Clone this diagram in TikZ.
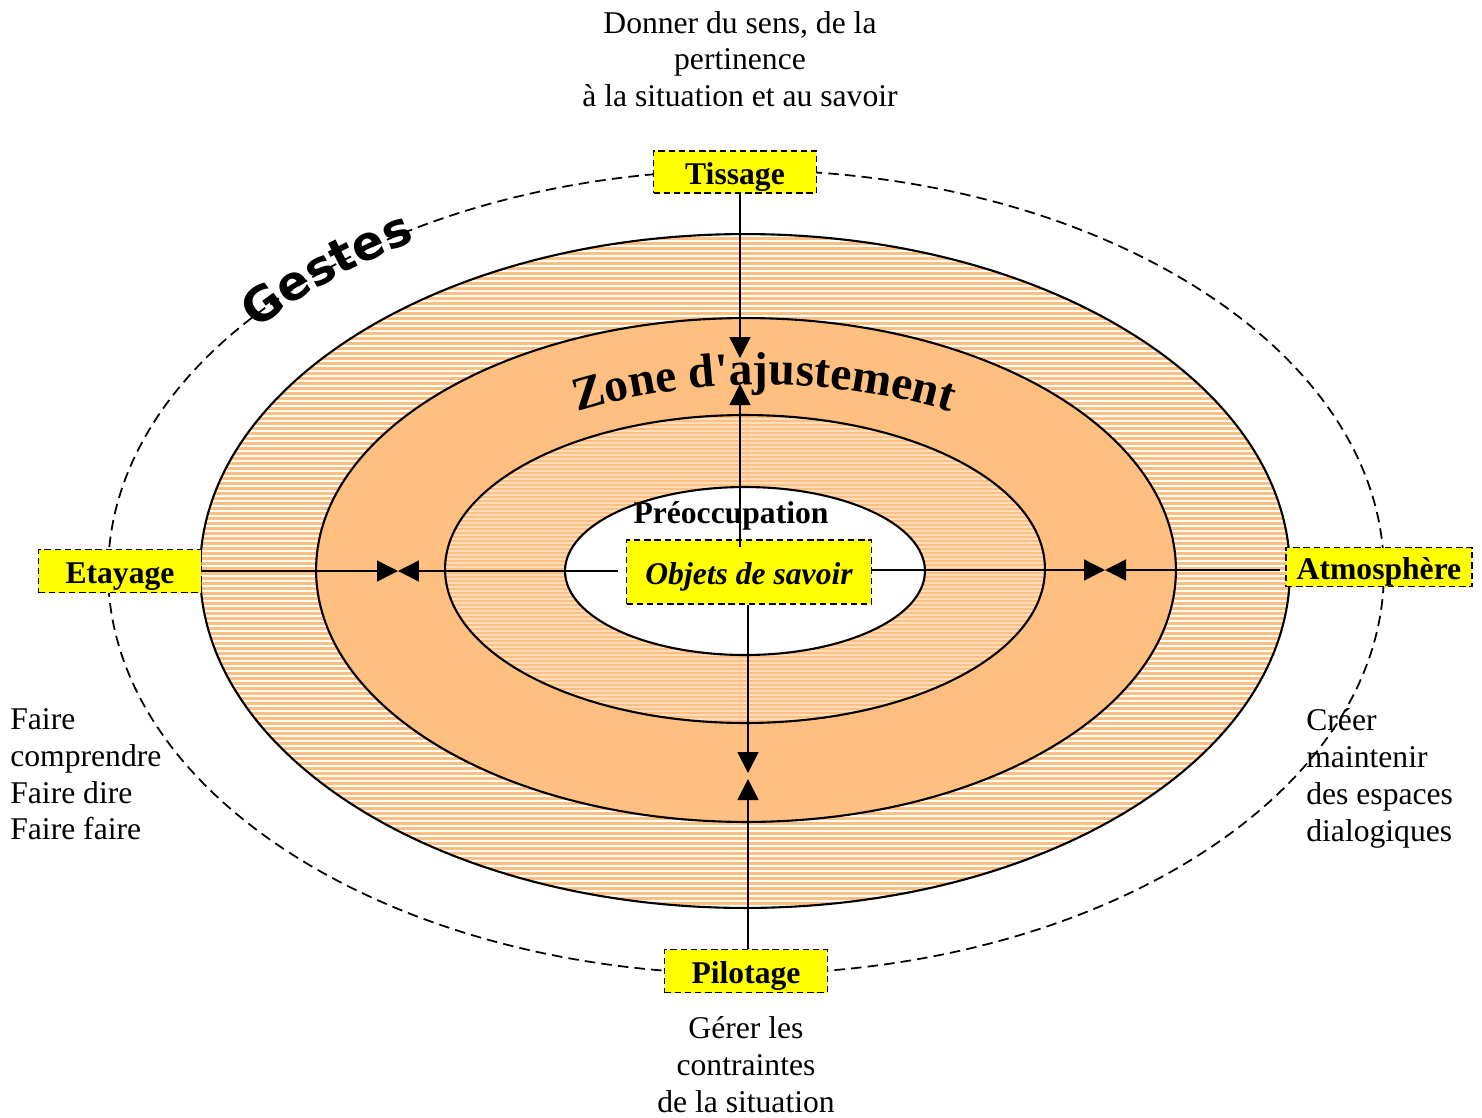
\documentclass[tikz,border=0pt]{standalone}
\usepackage{fontspec}
\setmainfont{Liberation Serif}
\newfontfamily\gestfont{DejaVu Sans}
\usetikzlibrary{positioning,arrows.meta,decorations.text,calc}
\definecolor{ringorange}{RGB}{255,191,128}
\definecolor{ringpeach}{RGB}{255,222,190}
\definecolor{boxyellow}{RGB}{255,255,0}
\begin{document}
\begin{tikzpicture}[x=0.02cm, y=-0.02cm,
  every node/.style = {font=\fontsize{18}{21}\selectfont},
  box/.style = {draw, dash pattern=on 3.6pt off 2.2pt, line width=1.1pt, fill=boxyellow, inner sep=0pt,
    text height=0.5cm, text depth=0cm, font=\fontsize{18}{21}\selectfont\bfseries},
  lbl/.style = {inner sep=0pt, align=center},
  tip/.style = {line width=0.8pt, -{Triangle[length=0.42cm,width=0.42cm]}},
  ring/.style = {line width=1.2pt}]
\useasboundingbox (0,0) rectangle (1482,1117);
% gestes
\draw[dash pattern=on 6pt off 3.5pt, line width=1pt] (746,572) ellipse [x radius=12.76cm, y radius=8.04cm];
\path[decorate, decoration={text along path, text align=center,
  text={|\gestfont\bfseries\fontsize{27}{27}\selectfont|Gestes}}]
  ($(746,572)+(150:12.5cm and 7.8cm)$) arc[start angle=150, end angle=115, x radius=12.5cm, y radius=7.8cm];
% rings
\fill[ringorange] (745,571) ellipse [x radius=10.9cm, y radius=6.74cm];
\begin{scope}
\clip (745,571) ellipse [x radius=10.9cm, y radius=6.74cm];
\foreach \y in {236,241,...,906} \draw[white, line width=0.8pt] (200,\y) -- (1290,\y);
\end{scope}
\fill[ringorange] (746,570) ellipse [x radius=8.6cm, y radius=5.04cm];
\fill[ringpeach] (745,569) ellipse [x radius=6cm, y radius=3.08cm];
\begin{scope}
\clip (745,569) ellipse [x radius=6cm, y radius=3.08cm];
\foreach \y in {417,421,...,723} \draw[ringorange, line width=0.7pt] (445,\y) -- (1046,\y);
\end{scope}
\fill[white] (745,571) ellipse [x radius=3.6cm, y radius=1.68cm];
\draw[ring] (745,571) ellipse [x radius=10.9cm, y radius=6.74cm];
\draw[ring] (746,570) ellipse [x radius=8.6cm, y radius=5.04cm];
\draw[ring] (745,569) ellipse [x radius=6cm, y radius=3.08cm];
\draw[ring] (745,571) ellipse [x radius=3.6cm, y radius=1.68cm];
\path[decorate, decoration={text along path, text align=center,
  text={|\bfseries\fontsize{27}{27}\selectfont|Zone d{\textquotesingle}ajustement}}]
  ($(764,570)+(165:7.2cm and 3.7cm)$) arc[start angle=165, end angle=15, x radius=7.2cm, y radius=3.7cm];
% boxes
\node[box, minimum width=3.26cm, minimum height=0.84cm] (tis) at (735,172) {Tissage};
\node[box, minimum width=3.26cm, minimum height=0.86cm] (eta) at (120,571) {Etayage};
\node[box, minimum width=3.72cm, minimum height=0.78cm] (atm) at (1379,567) {Atmosphère};
\node[box, minimum width=3.26cm, minimum height=0.86cm] (pil) at (746,971) {Pilotage};
\node[box, minimum width=4.9cm, minimum height=1.28cm, font=\fontsize{18}{21}\selectfont\bfseries\itshape] (obj) at (749,572) {Objets de savoir};
\node[font=\fontsize{18}{21}\selectfont\bfseries] (pre) at (731,516) {Préoccupation};
% labels
\node[lbl, above=0.85cm of tis, xshift=0.1cm] (sens) {Donner du sens, de la\\pertinence\\à la situation et au savoir};
\node[lbl, below=0.46cm of pil] (gere) {Gérer les\\contraintes\\de la situation};
\node[lbl, align=left, anchor=north west] (fair) at (10,708) {Faire\\comprendre\\Faire dire\\Faire faire};
\node[lbl, align=left, anchor=north west] (crea) at (1306,708) {Créer\\maintenir\\des espaces\\dialogiques};
% arrows
\coordinate (mt) at (740,371);
\coordinate (ml) at (398,571);
\coordinate (mr) at (1105,570);
\coordinate (mb) at (748,776);
\draw[tip, shorten >=0.26cm] (tis.south -| mt) -- (mt);
\draw[tip, shorten >=0.26cm, shorten <=-0.16cm] (obj.north -| mt) -- (mt);
\draw[tip] (eta.east |- ml) -- (ml);
\draw[tip, shorten <=0.16cm] (obj.west |- ml) -- (ml);
\draw[tip] (obj.east |- mr) -- (mr);
\draw[tip, shorten <=0.1cm] (atm.west |- mr) -- (mr);
\draw[tip, shorten >=0.06cm] (obj.south -| mb) -- (mb);
\draw[tip, shorten >=0.06cm] (pil.north -| mb) -- (mb);
\end{tikzpicture}
\end{document}
